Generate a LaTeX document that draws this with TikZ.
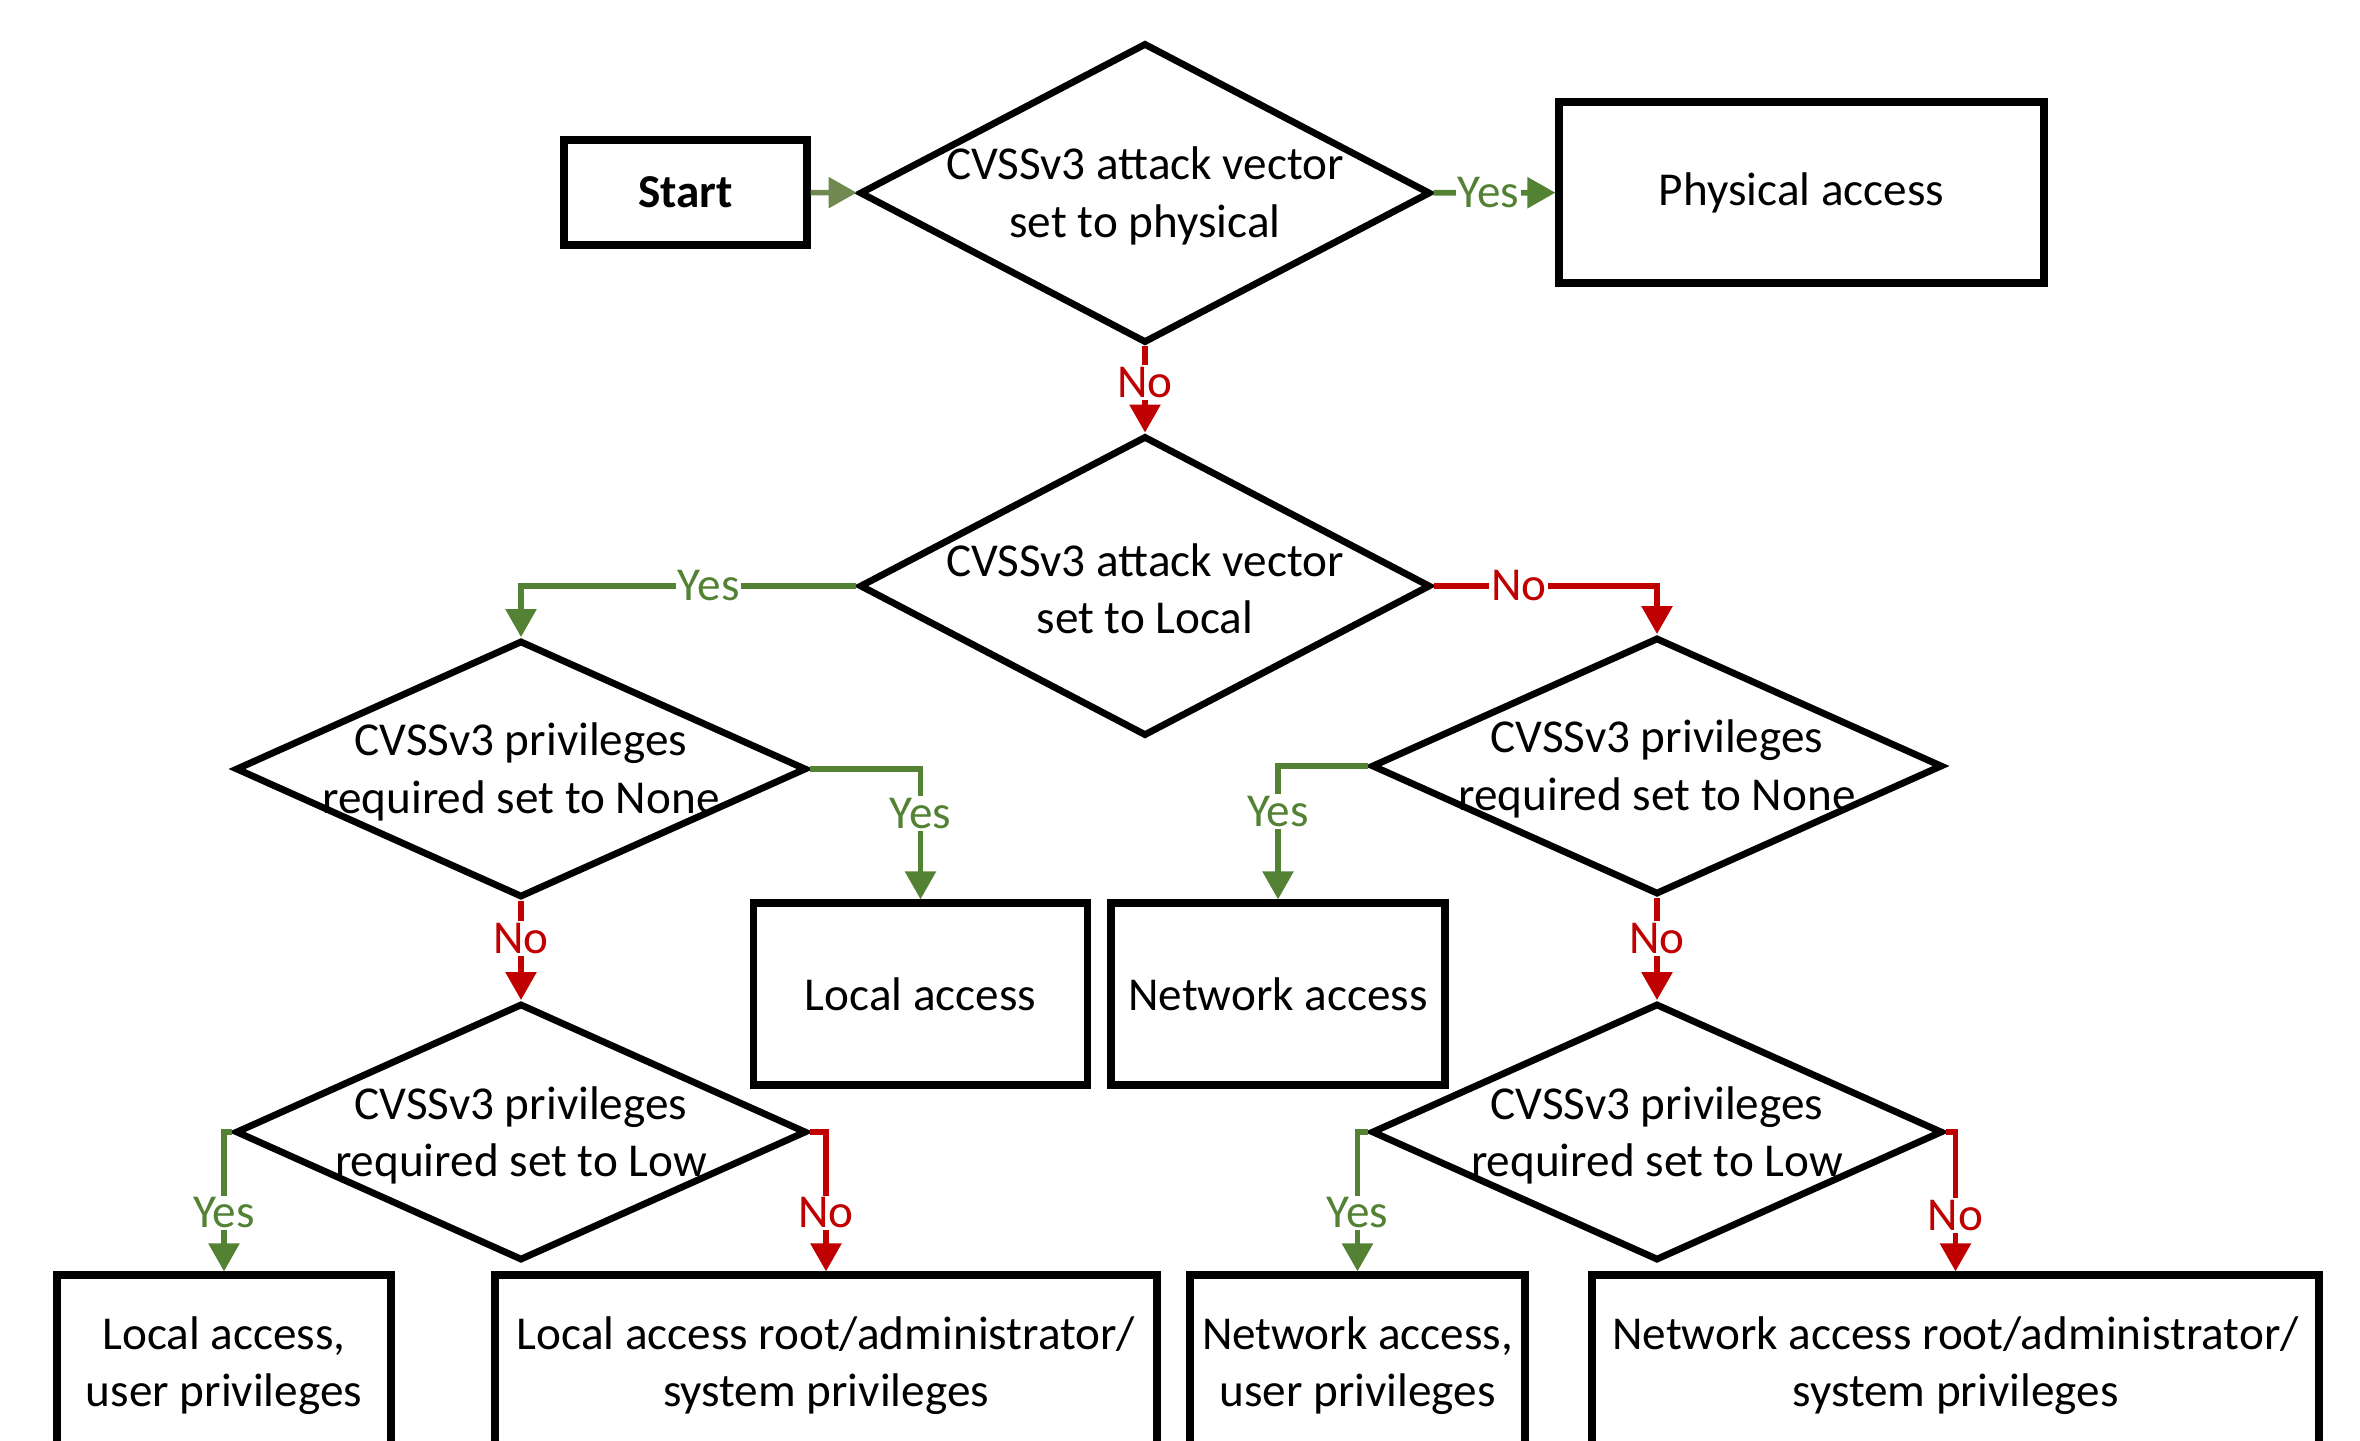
\documentclass[tikz,border=0pt]{standalone}
\usepackage{fontspec}
\setmainfont{Carlito}
\usetikzlibrary{shapes.geometric,arrows.meta}
\definecolor{ygreen}{RGB}{84,130,53}
\definecolor{nred}{RGB}{192,0,0}
\definecolor{sgreen}{RGB}{112,137,80}

\begin{document}
\begin{tikzpicture}[x=0.5pt,y=-0.5pt,font=\fontsize{23.6}{28.6}\selectfont,
    box/.style={draw,line width=3.6pt,rectangle,align=center,inner sep=0pt,
        minimum width=167pt,minimum height=91pt},
    dec/.style={draw,line width=3.4pt,diamond,inner sep=0pt,
        minimum width=285.5pt,minimum height=150pt},
    decs/.style={dec,minimum height=128.5pt},
    txt/.style={align=center,yshift=-1.5pt},
    yesline/.style={-{Triangle[length=14pt,width=15pt]},line width=2.8pt,color=ygreen},
    noline/.style={yesline,color=nred},
    startline/.style={yesline,color=sgreen},
    lab/.style={fill=white,inner sep=1pt}]

    \useasboundingbox (0,0) rectangle (2360,1440);
    \clip (0,0) rectangle (2360,1440);

    \node[box,font=\fontsize{23.6}{28.6}\selectfont\bfseries,minimum width=121.5pt,
        minimum height=52.5pt] (start) at (685.5,192.5) {Start};
    \node[dec,label={[txt]center:CVSSv3 attack vector\\set to physical}]
        (d1) at (1145,193) {};
    \node[box,minimum width=242.5pt,minimum height=90.5pt] (phys) at (1801.5,192.5)
        {Physical access};

    \node[dec,label={[txt]center:CVSSv3 attack vector\\set to Local}]
        (d2) at (1145,586) {};

    \node[decs,label={[txt]center:CVSSv3 privileges\\required set to None}]
        (d3) at (521,769) {};
    \node[decs,label={[txt]center:CVSSv3 privileges\\required set to None}]
        (d4) at (1657,766) {};

    \node[box] (loc) at (920.5,994) {Local access};
    \node[box] (net) at (1278,994) {Network access};

    \node[decs,label={[txt]center:CVSSv3 privileges\\required set to Low}]
        (d5) at (521,1132) {};
    \node[decs,label={[txt]center:CVSSv3 privileges\\required set to Low}]
        (d6) at (1657,1132) {};

    \node[box] (locuser) at (224,1366) {Local access,\\user privileges};
    \node[box,minimum width=331pt] (locroot) at (826,1366)
        {Local access root/administrator/\\system privileges};
    \node[box,minimum width=167.5pt] (netuser) at (1357.5,1366)
        {Network access,\\user privileges};
    \node[box,minimum width=363.5pt] (netroot) at (1955.5,1366)
        {Network access root/administrator/\\system privileges};

    \draw[startline] (start) -- (d1);
    \draw[yesline] (d1) -- node[lab,pos=0.45]{Yes} (phys);
    \draw[noline] (d1) -- node[lab,pos=0.42]{No} (d2);
    \draw[yesline] (d2.west) -| node[lab,pos=0.22]{Yes} (d3.north);
    \draw[noline] (d2.east) -| node[lab,pos=0.19]{No} (d4.north);
    \draw[yesline] (d3.east) -| node[lab,pos=0.67]{Yes} (loc.north);
    \draw[noline] (d3) -- node[lab,pos=0.38]{No} (d5);
    \draw[yesline] (d4.west) -| node[lab,pos=0.67]{Yes} (net.north);
    \draw[noline] (d4) -- node[lab,pos=0.4]{No} (d6);
    \draw[yesline] (d5.west) -| node[lab,pos=0.79]{Yes} (locuser.north);
    \draw[noline] (d5.east) -| node[lab,pos=0.79]{No} (locroot.north);
    \draw[yesline] (d6.west) -| node[lab,pos=0.79]{Yes} (netuser.north);
    \draw[noline] (d6.east) -| node[lab,pos=0.8]{No} (netroot.north);
\end{tikzpicture}
\end{document}
